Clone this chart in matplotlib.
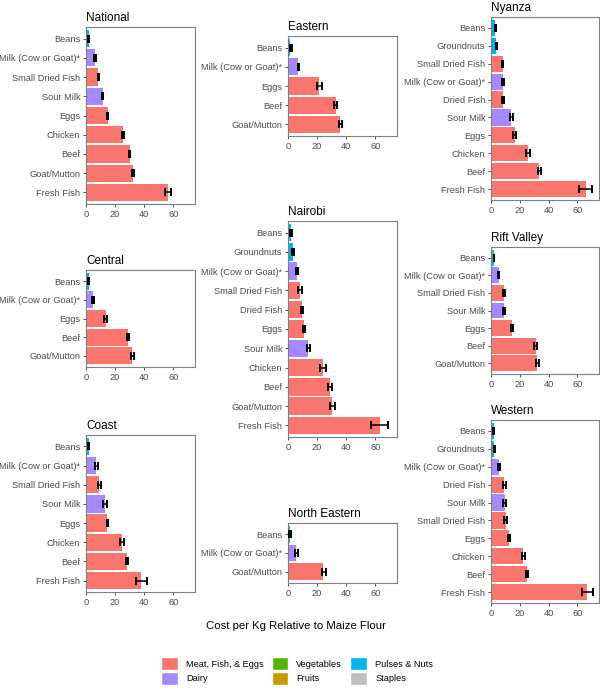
import matplotlib
matplotlib.use("Agg")
import matplotlib.pyplot as plt
from matplotlib.patches import Patch

plt.rcParams['font.family'] = ['Liberation Sans', 'DejaVu Sans']

# ---------------- data (top-to-bottom order as displayed) ----------------
national_items = ["Beans", "Milk (Cow or Goat)*", "Small Dried Fish", "Sour Milk", "Eggs",
                  "Chicken", "Beef", "Goat/Mutton", "Fresh Fish"]
national_vals = [1.8, 6.2, 8.5, 11.5, 14.9, 25.2, 30.0, 32.3, 56.7]
national_lo = [1.5, 5.8, 8.0, 11.0, 14.4, 24.6, 29.5, 31.7, 54.6]
national_hi = [2.3, 6.6, 9.0, 12.0, 15.4, 25.9, 30.6, 32.9, 58.3]

eastern_items = ["Beans", "Milk (Cow or Goat)*", "Eggs", "Beef", "Goat/Mutton"]
eastern_vals = [1.6, 7.1, 21.3, 32.8, 36.0]
eastern_lo = [2.0, 6.8, 20.0, 31.4, 34.9]
eastern_hi = [2.5, 7.4, 23.2, 33.9, 37.4]

nyanza_items = ["Beans", "Groundnuts", "Small Dried Fish", "Milk (Cow or Goat)*", "Dried Fish",
                "Sour Milk", "Eggs", "Chicken", "Beef", "Fresh Fish"]
nyanza_vals = [2.5, 3.3, 8.0, 8.0, 8.4, 13.9, 16.6, 25.7, 33.4, 65.7]
nyanza_lo = [2.5, 3.2, 7.3, 7.5, 7.7, 13.0, 15.5, 24.3, 32.5, 61.1]
nyanza_hi = [3.4, 4.3, 8.6, 8.9, 9.1, 15.0, 17.3, 27.3, 34.8, 70.2]

central_items = ["Beans", "Milk (Cow or Goat)*", "Eggs", "Beef", "Goat/Mutton"]
central_vals = [1.8, 4.8, 13.6, 29.2, 31.7]
central_lo = [1.4, 4.4, 12.6, 27.9, 31.0]
central_hi = [2.3, 5.3, 14.7, 29.9, 32.8]

nairobi_items = ["Beans", "Groundnuts", "Milk (Cow or Goat)*", "Small Dried Fish", "Dried Fish",
                 "Eggs", "Sour Milk", "Chicken", "Beef", "Goat/Mutton", "Fresh Fish"]
nairobi_vals = [1.8, 3.4, 6.2, 8.2, 9.8, 11.2, 14.0, 24.3, 28.9, 30.5, 63.0]
nairobi_lo = [1.6, 3.0, 5.5, 7.1, 8.7, 10.5, 12.9, 22.3, 27.8, 28.9, 57.3]
nairobi_hi = [2.5, 4.1, 7.1, 9.4, 10.6, 11.9, 15.1, 26.4, 30.4, 32.2, 69.0]

rift_items = ["Beans", "Milk (Cow or Goat)*", "Small Dried Fish", "Sour Milk", "Eggs",
              "Beef", "Goat/Mutton"]
rift_vals = [2.0, 5.5, 9.1, 9.3, 14.3, 31.1, 32.0]
rift_lo = [1.8, 5.0, 8.2, 8.6, 13.6, 30.2, 31.1]
rift_hi = [2.3, 5.9, 9.8, 9.8, 15.0, 32.0, 33.2]

coast_items = ["Beans", "Milk (Cow or Goat)*", "Small Dried Fish", "Sour Milk", "Eggs",
               "Chicken", "Beef", "Fresh Fish"]
coast_vals = [1.8, 7.1, 9.2, 13.1, 14.7, 24.8, 28.2, 37.6]
coast_lo = [1.6, 6.2, 8.3, 11.9, 14.2, 23.4, 27.5, 34.4]
coast_hi = [2.3, 8.0, 10.3, 14.2, 15.3, 26.0, 29.2, 41.7]

northeastern_items = ["Beans", "Milk (Cow or Goat)*", "Goat/Mutton"]
northeastern_vals = [1.4, 5.7, 24.4]
northeastern_lo = [0.9, 4.6, 23.3]
northeastern_hi = [1.8, 7.1, 26.4]

western_items = ["Beans", "Groundnuts", "Milk (Cow or Goat)*", "Dried Fish", "Sour Milk",
                 "Small Dried Fish", "Eggs", "Chicken", "Beef", "Fresh Fish"]
western_vals = [1.8, 2.3, 5.7, 9.1, 9.5, 10.2, 12.5, 22.5, 25.2, 66.8]
western_lo = [1.4, 1.8, 5.2, 8.0, 8.6, 9.1, 11.6, 21.6, 24.3, 63.0]
western_hi = [2.3, 2.7, 6.1, 10.2, 10.2, 11.1, 13.4, 23.4, 25.9, 70.5]

item_group = {
    "Beans": "Pulses & Nuts", "Groundnuts": "Pulses & Nuts",
    "Milk (Cow or Goat)*": "Dairy", "Sour Milk": "Dairy",
    "Small Dried Fish": "Meat, Fish, & Eggs", "Dried Fish": "Meat, Fish, & Eggs",
    "Eggs": "Meat, Fish, & Eggs", "Chicken": "Meat, Fish, & Eggs", "Beef": "Meat, Fish, & Eggs",
    "Goat/Mutton": "Meat, Fish, & Eggs", "Fresh Fish": "Meat, Fish, & Eggs",
}

legend_groups = ["Meat, Fish, & Eggs", "Dairy", "Vegetables", "Fruits", "Pulses & Nuts", "Staples"]
group_colors = {
    "Meat, Fish, & Eggs": "#F8766D", "Dairy": "#A58AFF", "Vegetables": "#53B400",
    "Fruits": "#C49A00", "Pulses & Nuts": "#00B6EB", "Staples": "#BEBEBE",
}

x_ticks = [0, 20, 40, 60]

# panel pixel boxes: (left, right, top, bottom)
panels = [
    ("National", national_items, national_vals, national_lo, national_hi, (86, 195, 27, 204)),
    ("Eastern", eastern_items, eastern_vals, eastern_lo, eastern_hi, (288, 397, 36, 136)),
    ("Nyanza", nyanza_items, nyanza_vals, nyanza_lo, nyanza_hi, (491, 599, 17, 200)),
    ("Central", central_items, central_vals, central_lo, central_hi, (86, 195, 270, 367)),
    ("Nairobi", nairobi_items, nairobi_vals, nairobi_lo, nairobi_hi, (288, 397, 221, 437)),
    ("Rift Valley", rift_items, rift_vals, rift_lo, rift_hi, (491, 599, 247, 374)),
    ("Coast", coast_items, coast_vals, coast_lo, coast_hi, (86, 195, 435, 592)),
    ("North Eastern", northeastern_items, northeastern_vals, northeastern_lo, northeastern_hi,
     (288, 397, 523, 583)),
    ("Western", western_items, western_vals, western_lo, western_hi, (491, 599, 420, 603)),
]

W, H = 600, 690
fig = plt.figure(figsize=(W / 100, H / 100), dpi=100)
fig.patch.set_facecolor("white")

tick_col = "#4D4D4D"
for title, items, vals, lo, hi, (l, r, t, b) in panels:
    ax = fig.add_axes([l / W, 1 - b / H, (r - l) / W, (b - t) / H])
    n = len(items)
    ys = [n - 1 - i for i in range(n)]
    colors = [group_colors[item_group[it]] for it in items]
    ax.barh(ys, vals, height=0.9, color=colors, edgecolor="none", zorder=2)
    xerr = [[v - a for v, a in zip(vals, lo)], [c - v for v, c in zip(vals, hi)]]
    xerr = [[max(e, 0) for e in xerr[0]], [max(e, 0) for e in xerr[1]]]
    ax.errorbar(vals, ys, xerr=xerr, fmt="none", ecolor="black", elinewidth=1.1,
                capsize=2.7, capthick=1.4, zorder=3)
    ax.set_xlim(0, 75)
    ax.set_ylim(-0.6, n - 0.4)
    ax.set_yticks(ys)
    ax.set_yticklabels(items)
    ax.set_xticks(x_ticks)
    ax.tick_params(axis="both", labelsize=6.7, colors="#333333", labelcolor=tick_col,
                   length=2.5, width=0.6, pad=1.5)
    for sp in ax.spines.values():
        sp.set_color("#7F7F7F")
        sp.set_linewidth(0.8)
    ax.set_title(title, loc="left", fontsize=8.5, pad=4, color="black")

fig.text(296 / W, 1 - 626 / H, "Cost per Kg Relative to Maize Flour", ha="center", va="center",
         fontsize=8.2, color="black")

handles = [Patch(facecolor=group_colors[g], edgecolor="white", label=g) for g in legend_groups]
fig.legend(handles=handles, labels=legend_groups, ncol=3, loc="center",
           bbox_to_anchor=(297 / W, 1 - 671 / H), frameon=False, fontsize=6.6,
           handlelength=1.8, handleheight=1.8, labelspacing=0.2, columnspacing=0.9,
           handletextpad=0.9, borderpad=0.2)

fig.savefig("out.png", dpi=100, facecolor="white")
